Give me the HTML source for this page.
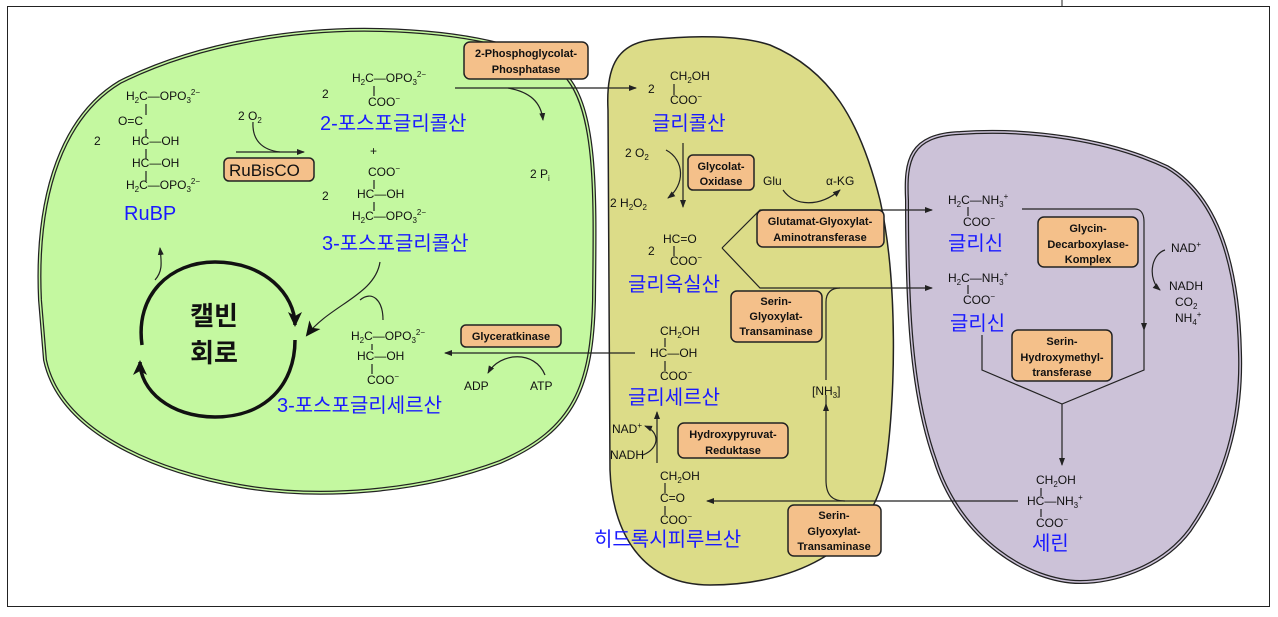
<!DOCTYPE html>
<html><head><meta charset="utf-8"><style>
body{margin:0;background:#fff;}
svg{display:block;}
text{font-family:"Liberation Sans","Noto Sans CJK KR",sans-serif;}
.c{font-size:12px;fill:#111;}
.k{font-size:20px;fill:#1a1aff;font-family:"Liberation Sans","Noto Sans CJK KR",sans-serif;}
.e{font-size:11px;font-weight:bold;fill:#111;}
.bx{fill:#f4c08a;stroke:#222;stroke-width:1.5;}
.ln{stroke:#222;stroke-width:1.2;fill:none;}
</style></head><body>
<svg width="1278" height="617" viewBox="0 0 1278 617" xmlns="http://www.w3.org/2000/svg">
<defs><marker id="a" markerWidth="8" markerHeight="8" refX="7" refY="4" orient="auto" markerUnits="userSpaceOnUse"><path d="M0,1 L8,4 L0,7 Z" fill="#222"/></marker>
<marker id="b" markerWidth="16" markerHeight="16" refX="13" refY="8" orient="auto" markerUnits="userSpaceOnUse"><path d="M0,1 L15,8 L0,15 L4,8 Z" fill="#111"/></marker></defs>
<rect x="7.5" y="6.5" width="1262" height="600" fill="none" stroke="#222" stroke-width="1"/>
<line x1="1062" y1="0" x2="1062" y2="6" stroke="#222"/>
<!-- green -->
<path d="M40,300 C35,190 65,115 120,82 C200,42 300,28 380,30 C460,32 530,45 565,75 C598,110 595,200 594,300 C592,385 575,430 500,462 C420,492 320,500 240,486 C150,470 60,430 45,360 Z" fill="#c4f8a0" stroke="#222" stroke-width="4"/>
<path d="M40,300 C35,190 65,115 120,82 C200,42 300,28 380,30 C460,32 530,45 565,75 C598,110 595,200 594,300 C592,385 575,430 500,462 C420,492 320,500 240,486 C150,470 60,430 45,360 Z" fill="none" stroke="#c4f8a0" stroke-width="1.5"/>
<!-- yellow -->
<path d="M608,110 C606,70 615,45 650,40 C690,35 740,35 770,45 C830,70 860,120 880,200 C898,280 896,400 885,470 C872,545 800,585 710,585 C640,585 612,530 610,470 Z" fill="#dcdc88" stroke="#222" stroke-width="1.5"/>
<!-- purple -->
<path d="M907,200 C905,160 910,135 960,133 C1030,128 1110,140 1167,167 C1215,195 1238,260 1240,353 C1242,420 1225,480 1190,530 C1160,570 1110,582 1080,582 C1030,582 960,540 935,460 C910,390 907,300 907,200 Z" fill="#ccc2d8" stroke="#222" stroke-width="4"/>
<path d="M907,200 C905,160 910,135 960,133 C1030,128 1110,140 1167,167 C1215,195 1238,260 1240,353 C1242,420 1225,480 1190,530 C1160,570 1110,582 1080,582 C1030,582 960,540 935,460 C910,390 907,300 907,200 Z" fill="none" stroke="#ccc2d8" stroke-width="1.5"/>

<!-- RuBP -->
<g class="c">
<text x="126" y="100">H<tspan font-size="8" dy="3">2</tspan><tspan dy="-3">C—OPO</tspan><tspan font-size="8" dy="3">3</tspan><tspan font-size="8" dy="-8">2−</tspan></text>
<text x="118" y="125">O=C</text>
<text x="94" y="145">2</text>
<text x="132" y="145">HC—OH</text>
<text x="132" y="167">HC—OH</text>
<text x="126" y="189">H<tspan font-size="8" dy="3">2</tspan><tspan dy="-3">C—OPO</tspan><tspan font-size="8" dy="3">3</tspan><tspan font-size="8" dy="-8">2−</tspan></text>
<text x="238" y="120">2 O<tspan font-size="8" dy="3">2</tspan></text>
</g>
<path class="ln" d="M146,104 V115 M146,129 V137 M146,149 V159 M146,171 V181"/>
<text class="k" x="124" y="220">RuBP</text>
<line class="ln" x1="236" y1="152" x2="304" y2="152" marker-end="url(#a)"/>
<path class="ln" d="M253,122 C252,140 262,150 280,152"/>
<rect class="bx" x="224" y="158" width="90" height="23" rx="5"/>
<text x="229" y="176" font-size="17" fill="#111">RuBisCO</text>

<!-- 2-phosphoglycolate -->
<g class="c">
<text x="322" y="98">2</text>
<text x="352" y="82">H<tspan font-size="8" dy="3">2</tspan><tspan dy="-3">C—OPO</tspan><tspan font-size="8" dy="3">3</tspan><tspan font-size="8" dy="-8">2−</tspan></text>
<text x="368" y="106">COO<tspan font-size="8" dy="-5">−</tspan></text>
<text x="370" y="155">+</text>
<text x="368" y="176">COO<tspan font-size="8" dy="-5">−</tspan></text>
<text x="322" y="200">2</text>
<text x="357" y="198">HC—OH</text>
<text x="352" y="220">H<tspan font-size="8" dy="3">2</tspan><tspan dy="-3">C—OPO</tspan><tspan font-size="8" dy="3">3</tspan><tspan font-size="8" dy="-8">2−</tspan></text>
<text x="530" y="178">2 P<tspan font-size="8" dy="3">i</tspan></text>
</g>
<path class="ln" d="M374,86 V96 M374,180 V189 M374,202 V211"/>
<text class="k" x="320" y="130">2-포스포글리콜산</text>
<text class="k" x="322" y="250">3-포스포글리콜산</text>
<rect class="bx" x="464" y="42" width="124" height="37" rx="6"/>
<text class="e" x="526" y="57" text-anchor="middle">2-Phosphoglycolat-</text>
<text class="e" x="526" y="73" text-anchor="middle">Phosphatase</text>
<line class="ln" x1="455" y1="88" x2="636" y2="88" marker-end="url(#a)"/>
<path class="ln" d="M508,88 C530,92 541,102 543,120" marker-end="url(#a)"/>

<!-- Calvin -->
<text x="214" y="325" font-size="26" font-weight="bold" fill="#111" text-anchor="middle">캘빈</text>
<text x="214" y="362" font-size="26" font-weight="bold" fill="#111" text-anchor="middle">회로</text>
<path d="M142,345 C135,295 170,262 215,262 C265,262 295,295 295,325" fill="none" stroke="#111" stroke-width="3.5" marker-end="url(#b)"/>
<path d="M295,340 C295,385 265,417 215,417 C170,417 140,390 140,362" fill="none" stroke="#111" stroke-width="3.5" marker-end="url(#b)"/>
<path class="ln" stroke-width="1.5" d="M155,280 C162,272 162,265 160,248" marker-end="url(#a)"/>
<path class="ln" stroke-width="1.5" d="M380,262 C375,295 330,305 307,335" marker-end="url(#b)"/>
<path class="ln" stroke-width="1.5" d="M383,320 C383,300 372,290 360,300"/>

<!-- 3-phosphoglycerate -->
<g class="c">
<text x="351" y="340">H<tspan font-size="8" dy="3">2</tspan><tspan dy="-3">C—OPO</tspan><tspan font-size="8" dy="3">3</tspan><tspan font-size="8" dy="-8">2−</tspan></text>
<text x="357" y="360">HC—OH</text>
<text x="367" y="384">COO<tspan font-size="8" dy="-5">−</tspan></text>
<text x="464" y="390">ADP</text>
<text x="530" y="390">ATP</text>
</g>
<path class="ln" d="M372,344 V350 M372,364 V374"/>
<text class="k" x="277" y="412">3-포스포글리세르산</text>
<rect class="bx" x="461" y="325" width="100" height="22" rx="5"/>
<text class="e" x="511" y="340" text-anchor="middle">Glyceratkinase</text>
<line class="ln" x1="635" y1="353" x2="445" y2="353" marker-end="url(#a)"/>
<path class="ln" d="M545,375 C535,350 500,352 488,373" marker-end="url(#a)"/>

<!-- peroxisome -->
<g class="c">
<text x="648" y="93">2</text>
<text x="670" y="80">CH<tspan font-size="8" dy="3">2</tspan><tspan dy="-3">OH</tspan></text>
<text x="670" y="104">COO<tspan font-size="8" dy="-5">−</tspan></text>
<text x="625" y="157">2 O<tspan font-size="8" dy="3">2</tspan></text>
<text x="610" y="207">2 H<tspan font-size="8" dy="3">2</tspan><tspan dy="-3">O</tspan><tspan font-size="8" dy="3">2</tspan></text>
<text x="763" y="185">Glu</text>
<text x="826" y="185">α-KG</text>
<text x="648" y="255">2</text>
<text x="663" y="243">HC=O</text>
<text x="670" y="265">COO<tspan font-size="8" dy="-5">−</tspan></text>
<text x="660" y="335">CH<tspan font-size="8" dy="3">2</tspan><tspan dy="-3">OH</tspan></text>
<text x="650" y="357">HC—OH</text>
<text x="660" y="380">COO<tspan font-size="8" dy="-5">−</tspan></text>
<text x="812" y="395">[NH<tspan font-size="8" dy="3">3</tspan><tspan dy="-3">]</tspan></text>
<text x="612" y="433">NAD<tspan font-size="8" dy="-5">+</tspan></text>
<text x="610" y="459">NADH</text>
<text x="660" y="480">CH<tspan font-size="8" dy="3">2</tspan><tspan dy="-3">OH</tspan></text>
<text x="660" y="502">C=O</text>
<text x="660" y="524">COO<tspan font-size="8" dy="-5">−</tspan></text>
</g>
<path class="ln" d="M674,84 V95 M674,246 V256 M665,338 V347 M665,361 V371 M665,483 V493 M665,506 V515"/>
<text class="k" x="652" y="130">글리콜산</text>
<text class="k" x="628" y="291">글리옥실산</text>
<text class="k" x="628" y="404">글리세르산</text>
<text class="k" x="594" y="546">히드록시피루브산</text>
<line class="ln" x1="683" y1="143" x2="683" y2="207" marker-end="url(#a)"/>
<path class="ln" d="M666,150 C685,160 685,185 668,198" marker-end="url(#a)"/>
<rect class="bx" x="688" y="155" width="66" height="35" rx="5"/>
<text class="e" x="721" y="170" text-anchor="middle">Glycolat-</text>
<text class="e" x="721" y="185" text-anchor="middle">Oxidase</text>
<path class="ln" d="M783,190 C795,207 820,207 840,190" marker-end="url(#a)"/>
<rect class="bx" x="757" y="210" width="127" height="37" rx="6"/>
<text class="e" x="820" y="225" text-anchor="middle">Glutamat-Glyoxylat-</text>
<text class="e" x="820" y="241" text-anchor="middle">Aminotransferase</text>
<path class="ln" d="M722,248 L760,210 H932" marker-end="url(#a)"/>
<path class="ln" d="M722,248 L760,288 H932" marker-end="url(#a)"/>
<path class="ln" d="M826,450 V395 M826,380 V302 C826,292 832,288 840,288"/>
<line class="ln" x1="826" y1="410" x2="826" y2="404" marker-end="url(#a)"/>
<rect class="bx" x="731" y="291" width="91" height="51" rx="6"/>
<text class="e" x="776" y="305" text-anchor="middle">Serin-</text>
<text class="e" x="776" y="320" text-anchor="middle">Glyoxylat-</text>
<text class="e" x="776" y="335" text-anchor="middle">Transaminase</text>
<line class="ln" x1="657" y1="463" x2="657" y2="412" marker-end="url(#a)"/>
<path class="ln" d="M643,455 C660,448 660,432 645,426" marker-end="url(#a)"/>
<rect class="bx" x="678" y="423" width="110" height="35" rx="6"/>
<text class="e" x="733" y="438" text-anchor="middle">Hydroxypyruvat-</text>
<text class="e" x="733" y="454" text-anchor="middle">Reduktase</text>
<path class="ln" d="M1018,501 H845 C832,501 826,495 826,480 V450"/>
<line class="ln" x1="845" y1="501" x2="707" y2="501" marker-end="url(#a)"/>
<rect class="bx" x="788" y="505" width="93" height="51" rx="6"/>
<text class="e" x="834" y="519" text-anchor="middle">Serin-</text>
<text class="e" x="834" y="535" text-anchor="middle">Glyoxylat-</text>
<text class="e" x="834" y="550" text-anchor="middle">Transaminase</text>

<!-- mitochondrion -->
<g class="c">
<text x="948" y="204">H<tspan font-size="8" dy="3">2</tspan><tspan dy="-3">C—NH</tspan><tspan font-size="8" dy="3">3</tspan><tspan font-size="8" dy="-8">+</tspan></text>
<text x="963" y="226">COO<tspan font-size="8" dy="-5">−</tspan></text>
<text x="948" y="282">H<tspan font-size="8" dy="3">2</tspan><tspan dy="-3">C—NH</tspan><tspan font-size="8" dy="3">3</tspan><tspan font-size="8" dy="-8">+</tspan></text>
<text x="963" y="304">COO<tspan font-size="8" dy="-5">−</tspan></text>
<text x="1171" y="252">NAD<tspan font-size="8" dy="-5">+</tspan></text>
<text x="1169" y="290">NADH</text>
<text x="1175" y="306">CO<tspan font-size="8" dy="3">2</tspan></text>
<text x="1175" y="322">NH<tspan font-size="8" dy="3">4</tspan><tspan font-size="8" dy="-8">+</tspan></text>
<text x="1036" y="484">CH<tspan font-size="8" dy="3">2</tspan><tspan dy="-3">OH</tspan></text>
<text x="1027" y="505">HC—NH<tspan font-size="8" dy="3">3</tspan><tspan font-size="8" dy="-8">+</tspan></text>
<text x="1036" y="527">COO<tspan font-size="8" dy="-5">−</tspan></text>
</g>
<path class="ln" d="M968,207 V216 M968,285 V294 M1041,488 V496 M1041,509 V517"/>
<text class="k" x="948" y="250">글리신</text>
<text class="k" x="950" y="330">글리신</text>
<text class="k" x="1032" y="550">세린</text>
<rect class="bx" x="1038" y="217" width="100" height="50" rx="6"/>
<text class="e" x="1088" y="232" text-anchor="middle">Glycin-</text>
<text class="e" x="1088" y="248" text-anchor="middle">Decarboxylase-</text>
<text class="e" x="1088" y="263" text-anchor="middle">Komplex</text>
<path class="ln" d="M1022,209 H1135 C1141,209 1144,214 1144,222 V330" marker-end="url(#a)"/>
<path class="ln" d="M1165,250 C1150,255 1148,280 1160,290" marker-end="url(#a)"/>
<path class="ln" d="M982,335 V370 L1062,404 L1144,370 V330"/>
<line class="ln" x1="1062" y1="404" x2="1062" y2="465" marker-end="url(#a)"/>
<rect class="bx" x="1012" y="330" width="100" height="51" rx="6"/>
<text class="e" x="1062" y="345" text-anchor="middle">Serin-</text>
<text class="e" x="1062" y="361" text-anchor="middle">Hydroxymethyl-</text>
<text class="e" x="1062" y="376" text-anchor="middle">transferase</text>
</svg>
</body></html>
